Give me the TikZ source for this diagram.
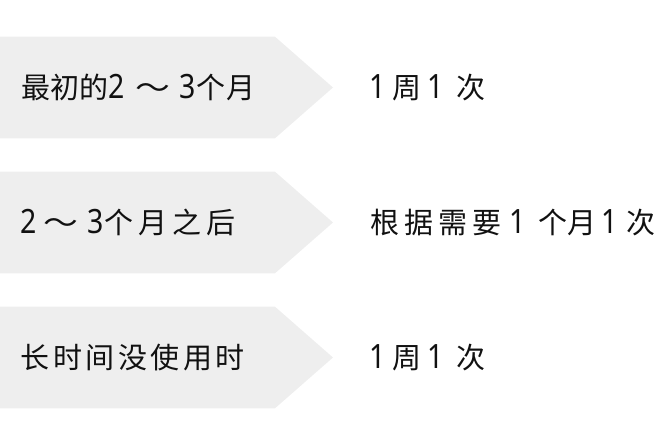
\documentclass[tikz,border=0pt]{standalone}
\usepackage{fontspec}
\newfontfamily\cjk{Noto Sans CJK SC}
\newfontfamily\digitfont{Noto Sans}
\newcommand{\dg}[1]{\scalebox{0.85}[1]{\fontsize{33.5}{33.5}\digitfont #1}}
\newcommand{\tl}{\scalebox{1.2}[1]{～}}
\newcommand{\gp}[1]{\hspace*{#1pt}}
\definecolor{arrowgrey}{HTML}{EEEEEE}
\definecolor{txt}{HTML}{111111}
\tikzset{
  steparrow/.style={fill=arrowgrey, draw=none},
  rowtext/.style={anchor=base west, inner sep=0pt, font=\fontsize{29}{29}\selectfont\cjk, text=txt},
}
\begin{document}
\begin{tikzpicture}[x=1pt,y=-1pt]
\useasboundingbox (0,0) rectangle (665,442);
\foreach \c in {87.5,222.5,357.5}{
  \fill[steparrow] (0,\c-50.8) -- (275,\c-50.8) -- (333,\c) -- (275,\c+50.8) -- (0,\c+50.8) -- cycle;
}
\node[rowtext] (l1) at (21,98) {最初的\dg{2} \gp{5}\tl{} \gp{2.4}\dg{3}\gp{1}个\gp{0.5}月};
\node[rowtext] (l2) at (20,233) {\dg{2} \gp{1}\tl{} \gp{2.5}\dg{3}\gp{0.5}个\gp{5}月\gp{5}之\gp{5}后};
\node[rowtext] (l3) at (20.5,368) {长\gp{3.5}时\gp{3.5}间\gp{3.5}没\gp{3.5}使\gp{3.5}用\gp{3.5}时};
\node[rowtext] (r1) at (368.9,98) {\dg{1}\gp{6.9}周\gp{6.4}\dg{1}\gp{12.8}次};
\node[rowtext] (r2) at (370.5,233) {根\gp{5}据\gp{5}需\gp{5}要\gp{7.4}\dg{1}\gp{12.7}个月\gp{5}\dg{1}\gp{9.2}次};
\node[rowtext] (r3) at (368.9,368) {\dg{1}\gp{6.9}周\gp{6.4}\dg{1}\gp{12.8}次};
\end{tikzpicture}
\end{document}
